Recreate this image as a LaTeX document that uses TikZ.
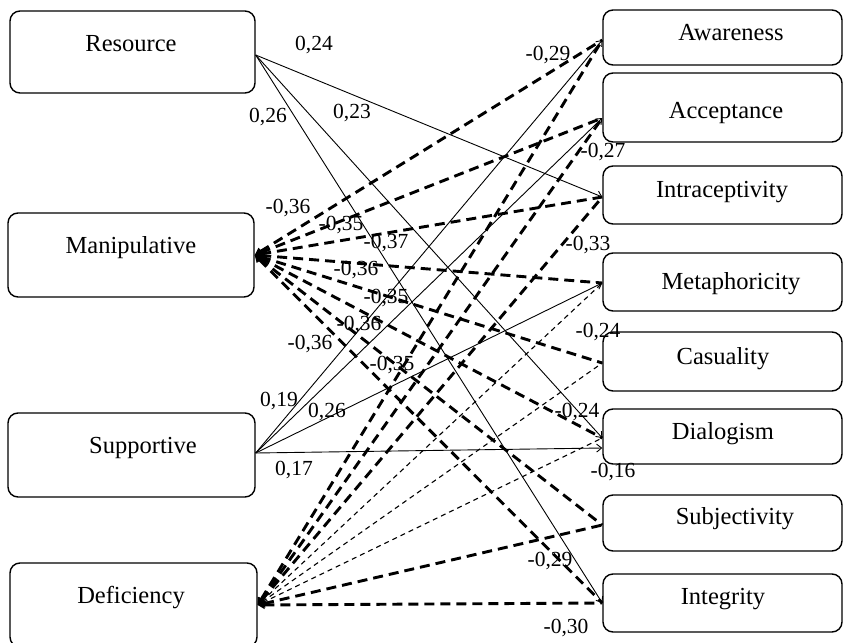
\documentclass[tikz,border=0pt]{standalone}
\usepackage{fontspec}
\setmainfont{Liberation Serif}
\usetikzlibrary{arrows.meta}
\begin{document}
\begin{tikzpicture}[x=1pt,y=-1pt,
  box/.style={draw, line width=1.4pt, rounded corners=10pt, inner sep=0pt},
  lbox/.style={box, minimum width=246pt, minimum height=83pt},
  rbox/.style={box, minimum width=239pt},
  lbl/.style={font=\fontsize{24.5}{28}\selectfont, inner sep=0pt},
  num/.style={font=\fontsize{21.5}{25}\selectfont, inner sep=0pt},
  posline/.style={line width=0.9pt, -{Straight Barb[length=5pt,width=8pt,line width=0.9pt]}},
  negm/.style={line width=2.9pt, dash pattern=on 10pt off 6pt, {Triangle[length=7pt,width=8pt]}-},
  negw/.style={line width=1.1pt, dash pattern=on 5pt off 4pt, {Triangle[length=6pt,width=6pt]}-}
]
\useasboundingbox (0,0) rectangle (844,643);
\fill[white] (0,0) rectangle (844,643);

% left boxes
\node[lbox, minimum width=245pt, minimum height=82pt] (res) at (132.5,52) {};
\node[lbox, minimum height=84pt] (man) at (131,255) {};
\node[lbox, minimum width=247pt, minimum height=84pt] (sup) at (131.5,455) {};
\node[lbox, minimum width=247pt, minimum height=84pt] (def) at (133.5,605) {};
\node[lbl] (res-t) at (131,44) {Resource};
\node[lbl] (man-t) at (131,248) {Manipulative};
\node[lbl] (sup-t) at (143,448) {Supportive};
\node[lbl] (def-t) at (131,598) {Deficiency};

% right boxes
\node[rbox, minimum height=55pt] (aw) at (722.5,37.5) {};
\node[rbox, minimum height=69pt] (acc) at (722.5,107.5) {};
\node[rbox, minimum height=58pt] (intr) at (722.5,195) {};
\node[rbox, minimum height=58pt] (met) at (722.5,282) {};
\node[rbox, minimum height=59pt] (cas) at (722.5,361.5) {};
\node[rbox, minimum height=55pt] (dia) at (722.5,436.5) {};
\node[rbox, minimum height=56pt] (sub) at (722.5,523) {};
\node[rbox, minimum height=58pt] (integ) at (722.5,603) {};
\node[lbl] (aw-t) at (731,33) {Awareness};
\node[lbl] (acc-t) at (726,113) {Acceptance};
\node[lbl] (intr-t) at (722,192) {Intraceptivity};
\node[lbl] (met-t) at (731,284) {Metaphoricity};
\node[lbl] (cas-t) at (723,359) {Casuality};
\node[lbl] (dia-t) at (723,434) {Dialogism};
\node[lbl] (sub-t) at (735,519) {Subjectivity};
\node[lbl] (integ-t) at (723,599) {Integrity};

% connection points
\coordinate (res-o) at (res.east |- 0,55);
\coordinate (man-o) at (man.east |- 0,255);
\coordinate (sup-o) at (sup.east |- 0,453);
\coordinate (def-o) at (def.east |- 0,605);
\coordinate (aw-i) at (aw.west |- 0,40);
\coordinate (acc-i) at (acc.west |- 0,118);
\coordinate (intr-i) at (intr.west |- 0,197);
\coordinate (met-i) at (met.west |- 0,283);
\coordinate (cas-i) at (cas.west |- 0,363);
\coordinate (dia-i) at (dia.west |- 0,438);
\coordinate (dia-j) at (dia.west |- 0,448);
\coordinate (sub-i) at (sub.west |- 0,525);
\coordinate (integ-i) at (integ.west |- 0,603);

% Resource
\draw[posline] (res-o) -- (intr-i);
\draw[posline] (res-o) -- (dia-i);
\draw[posline] (res-o) -- (integ-i);
% Supportive
\draw[posline] (sup-o) -- (aw-i);
\draw[posline] (sup-o) -- (acc-i);
\draw[posline] (sup-o) -- (met-i);
\draw[posline] (sup-o) -- (dia-j);
% Manipulative
\foreach \t in {aw,acc,intr,met,cas,dia,sub,integ}
  \draw[negm] (man-o) -- (\t-i);
% Deficiency
\foreach \t in {aw,acc,intr,sub,integ}
  \draw[negm] (def-o) -- (\t-i);
\foreach \t in {met,cas,dia}
  \draw[negw] (def-o) -- (\t-i);

% coefficients
\node[num] (n1) at (314,45) {0,24};
\node[num] (n2) at (268,117) {0,26};
\node[num] (n3) at (352,113) {0,23};
\node[num] (n4) at (548,55) {-0,29};
\node[num] (n5) at (603,152) {-0,27};
\node[num] (n6) at (288,208) {-0,36};
\node[num] (n7) at (341,225) {-0,35};
\node[num] (n8) at (386,243) {-0,37};
\node[num] (n9) at (588,245) {-0,33};
\node[num] (n10) at (356,270) {-0,36};
\node[num] (n11) at (386,298) {-0,35};
\node[num] (n12) at (359,325) {-0,36};
\node[num] (n13) at (598,332) {-0,24};
\node[num] (n14) at (310,344) {-0,36};
\node[num] (n15) at (392,365) {-0,35};
\node[num] (n16) at (279,401) {0,19};
\node[num] (n17) at (327,412) {0,26};
\node[num] (n18) at (577,412) {-0,24};
\node[num] (n19) at (294,470) {0,17};
\node[num] (n20) at (613,472) {-0,16};
\node[num] (n21) at (550,561) {-0,29};
\node[num] (n22) at (566,628) {-0,30};
\end{tikzpicture}
\end{document}
